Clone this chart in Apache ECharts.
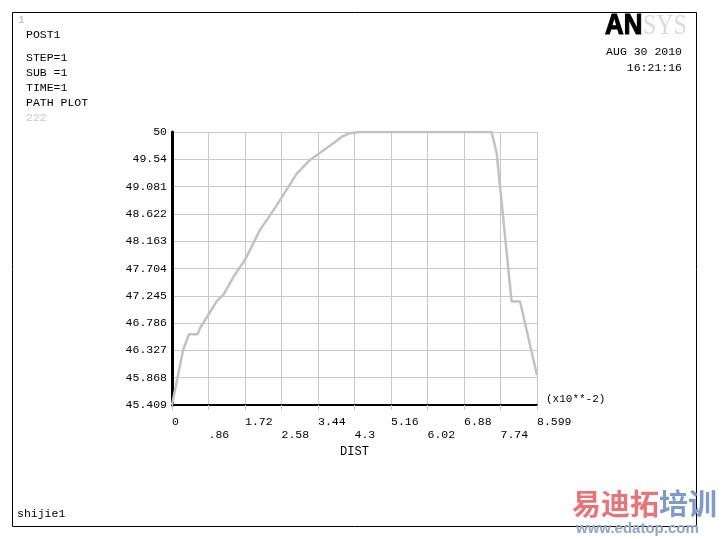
<!DOCTYPE html>
<html>
<head>
<meta charset="utf-8">
<script src="https://cdn.jsdelivr.net/npm/echarts@6/dist/echarts.min.js"></script>
<style>
  html, body { margin: 0; padding: 0; background: #fff; }
  #main { width: 726px; height: 539px; }
</style>
</head>
<body>
<div id="main"></div>
<script>
// path plot values
var dist = [0, 0.26, 0.40, 0.60, 0.66, 1.05, 1.21, 1.48, 1.72, 2.07, 2.47, 2.94, 3.25, 3.49, 3.80, 4.00, 4.19, 4.43, 7.53, 7.65, 8.00, 8.20, 8.599];
var temp = [45.409, 46.33, 46.60, 46.60, 46.70, 47.15, 47.26, 47.60, 47.85, 48.35, 48.77, 49.30, 49.53, 49.65, 49.81, 49.92, 49.98, 50.0, 50.0, 49.64, 47.15, 47.15, 45.91];

var xTickLabels = ['0', '.86', '1.72', '2.58', '3.44', '4.3', '5.16', '6.02', '6.88', '7.74', '8.599'];
var yTickLabels = ['45.409', '45.868', '46.327', '46.786', '47.245', '47.704', '48.163', '48.622', '49.081', '49.54', '50'];

var X_MIN = 0, X_STEP = 0.8599;
var Y_MIN = 45.409, Y_STEP = 0.4591;

var mono = '"Liberation Mono", "DejaVu Sans Mono", monospace';

var myChart = echarts.init(document.getElementById('main'));

// axes run in tick units (0..10) so ticks land exactly on the ANSYS divisions
var lineData = dist.map(function (d, i) {
    return [(d - X_MIN) / X_STEP, (temp[i] - Y_MIN) / Y_STEP];
});

var leftText = [
    { t: '1', y: 20, c: '#b4b4b4', x: 18 },
    { t: 'POST1', y: 35, c: '#000', x: 26 },
    { t: 'STEP=1', y: 58, c: '#000', x: 26 },
    { t: 'SUB =1', y: 73, c: '#000', x: 26 },
    { t: 'TIME=1', y: 88, c: '#000', x: 26 },
    { t: 'PATH PLOT', y: 103, c: '#000', x: 26 },
    { t: '222', y: 118, c: '#c8c8c8', x: 26 }
];

var graphics = [
    {
        type: 'rect',
        shape: { x: 12.5, y: 12.5, width: 684, height: 514 },
        style: { fill: 'none', stroke: '#000', lineWidth: 1 },
        silent: true
    },
    // ANSYS logo
    {
        type: 'text', x: 605, y: 26, scaleX: 0.86,
        style: { text: 'AN', font: 'bold 30px "Liberation Sans", Arial, sans-serif', fill: '#000', stroke: '#000', lineWidth: 1.2, verticalAlign: 'middle' }
    },
    {
        type: 'text', x: 643, y: 26, scaleX: 0.82,
        style: { text: 'SYS', font: '29px "Liberation Serif", serif', fill: '#dadada', verticalAlign: 'middle' }
    },
    {
        type: 'text', x: 682, y: 52,
        style: { text: 'AUG 30 2010', font: '11.5px ' + mono, fill: '#000', align: 'right', verticalAlign: 'middle' }
    },
    {
        type: 'text', x: 682, y: 68,
        style: { text: '16:21:16', font: '11.5px ' + mono, fill: '#000', align: 'right', verticalAlign: 'middle' }
    },
    {
        type: 'text', x: 546, y: 399,
        style: { text: '(x10**-2)', font: '11px ' + mono, fill: '#000', verticalAlign: 'middle' }
    },
    {
        type: 'text', x: 17, y: 514,
        style: { text: 'shijie1', font: '11.5px ' + mono, fill: '#000', verticalAlign: 'middle' }
    },
    // watermark
    {
        type: 'text', x: 572, y: 504,
        style: {
            text: '{r|易迪拓}{b|培训}',
            verticalAlign: 'middle',
            rich: {
                r: { font: 'bold 29px "Noto Sans CJK SC", sans-serif', fill: '#ea7378' },
                b: { font: 'bold 29px "Noto Sans CJK SC", sans-serif', fill: '#7d9ccc' }
            }
        }
    },
    {
        type: 'text', x: 576, y: 529,
        style: { text: 'www.edatop.com', font: 'bold 15px "Liberation Sans", Arial, sans-serif', fill: '#8fa6c6', verticalAlign: 'middle' }
    }
];

leftText.forEach(function (l) {
    graphics.push({
        type: 'text', x: l.x, y: l.y,
        style: { text: l.t, font: '11.5px ' + mono, fill: l.c, verticalAlign: 'middle' }
    });
});

var option = {
    animation: false,
    backgroundColor: '#fff',
    grid: { left: 172, top: 132, right: 189, bottom: 134 },
    xAxis: {
        type: 'value',
        min: 0,
        max: 10,
        interval: 1,
        name: 'DIST',
        nameLocation: 'middle',
        nameGap: 40,
        nameTextStyle: { fontFamily: mono, fontSize: 12, color: '#000' },
        axisLine: { show: true, onZero: false, lineStyle: { color: '#000', width: 2 } },
        axisTick: { show: true, length: 5, lineStyle: { color: '#c8c8c8' } },
        splitLine: { show: true, lineStyle: { color: '#c8c8c8', width: 1 } },
        axisLabel: {
            margin: 10,
            align: 'left',
            lineHeight: 13,
            fontFamily: mono,
            fontSize: 11.5,
            color: '#000',
            formatter: function (v) {
                var i = Math.round(v);
                return i % 2 === 1 ? '\n' + xTickLabels[i] : xTickLabels[i];
            }
        }
    },
    yAxis: {
        type: 'value',
        min: 0,
        max: 10,
        interval: 1,
        axisLine: { show: true, onZero: false, lineStyle: { color: '#000', width: 3 } },
        axisTick: { show: false },
        splitLine: { show: true, lineStyle: { color: '#c8c8c8', width: 1 } },
        axisLabel: {
            margin: 5,
            fontFamily: mono,
            fontSize: 11.5,
            color: '#000',
            formatter: function (v) {
                return yTickLabels[Math.round(v)];
            }
        }
    },
    series: [
        {
            type: 'line',
            data: lineData,
            showSymbol: false,
            symbol: 'none',
            lineStyle: { color: '#c2c2c2', width: 2.5 },
            z: 3
        }
    ],
    graphic: graphics
};

option && myChart.setOption(option);
</script>
</body>
</html>
